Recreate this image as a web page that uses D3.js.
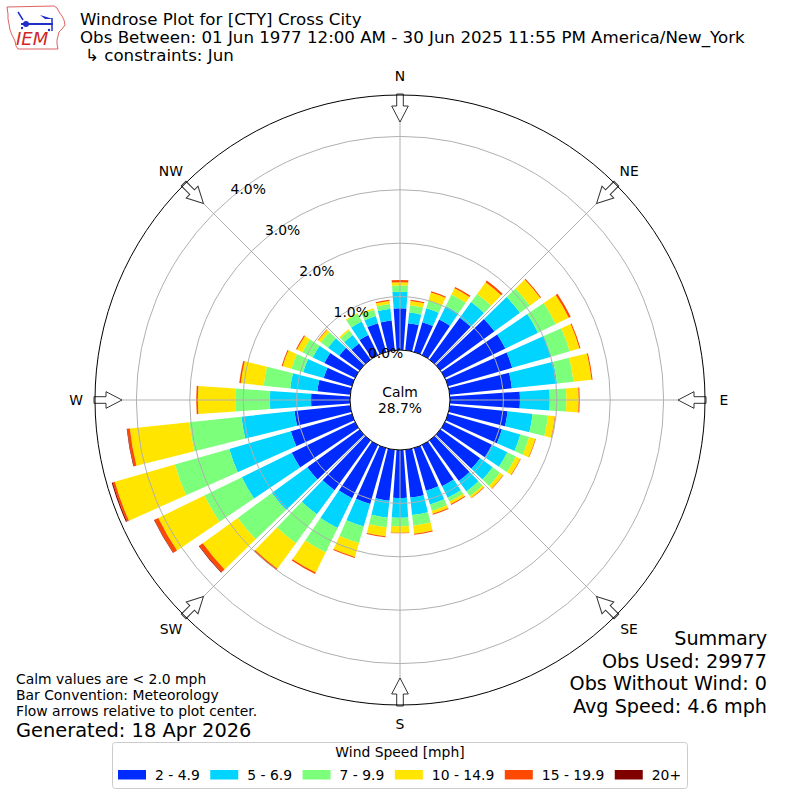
<!DOCTYPE html>
<html lang="en">
<head>
<meta charset="UTF-8"/>
<title>Windrose Plot for [CTY] Cross City</title>
<script src="https://d3js.org/d3.v7.min.js"></script>
<style>
    body { margin: 0; background: #fff; }
    text { font-family: "DejaVu Sans", sans-serif; }
</style>
</head>
<body>
<script>
    // direction bins (degrees, direction wind blows from)
    var directions = [0, 10, 20, 30, 40, 50, 60, 70, 80, 90, 100, 110,
                      120, 130, 140, 150, 160, 170, 180, 190, 200, 210, 220, 230,
                      240, 250, 260, 270, 280, 290, 300, 310, 320, 330, 340, 350];

    var speedBins = ["2 - 4.9", "5 - 6.9", "7 - 9.9", "10 - 14.9", "15 - 19.9", "20+"];
    var binColors = ["#002bff", "#00d4ff", "#7cff7a", "#ffe500", "#ff4900", "#800000"];

    // percent of observations per direction, one array per speed bin
    var pct2to5 = [0.78, 0.51, 0.58, 0.74, 0.97, 1.25, 1.26, 1.25, 1.17, 1.31, 1.09, 1.05,
                   0.98, 0.92, 0.94, 0.86, 0.83, 0.90, 0.90, 0.96, 1.09, 1.11, 1.15, 1.21,
                   1.32, 1.19, 1.05, 0.73, 0.62, 0.55, 0.64, 0.47, 0.37, 0.42, 0.56, 0.56];
    var pct5to7 = [0.31, 0.20, 0.27, 0.28, 0.36, 0.59, 0.68, 0.76, 0.85, 0.56, 0.47, 0.36,
                   0.32, 0.29, 0.24, 0.24, 0.27, 0.33, 0.37, 0.32, 0.44, 0.62, 0.56, 0.82,
                   1.04, 1.20, 1.00, 0.77, 0.51, 0.40, 0.24, 0.26, 0.20, 0.28, 0.14, 0.22];
    var pct7to10 = [0.12, 0.14, 0.15, 0.24, 0.19, 0.23, 0.37, 0.36, 0.31, 0.31, 0.29, 0.17,
                    0.18, 0.17, 0.11, 0.08, 0.12, 0.20, 0.16, 0.18, 0.32, 0.51, 0.67, 0.79,
                    0.78, 1.06, 0.98, 0.65, 0.50, 0.23, 0.22, 0.17, 0.10, 0.16, 0.12, 0.09];
    var pct10to15 = [0.06, 0.08, 0.16, 0.13, 0.27, 0.24, 0.27, 0.19, 0.34, 0.23, 0.13, 0.12,
                     0.09, 0.07, 0.04, 0.05, 0.06, 0.15, 0.12, 0.17, 0.27, 0.42, 0.59, 0.81,
                     0.96, 1.17, 1.12, 0.70, 0.43, 0.17, 0.11, 0.06, 0.03, 0.02, 0.03, 0.06];
    var pct15to20 = [0.04, 0.02, 0.02, 0.03, 0.04, 0.02, 0.04, 0.02, 0.02, 0.02, 0.01, 0.01,
                     0.01, 0.01, 0.01, 0.02, 0.02, 0.02, 0.01, 0.02, 0.02, 0.03, 0.03, 0.08,
                     0.08, 0.04, 0.05, 0.03, 0.03, 0.02, 0.02, 0.01, 0.00, 0.00, 0.00, 0.02];
    var pct20up = [0, 0, 0, 0, 0, 0, 0, 0, 0, 0, 0, 0,
                   0, 0, 0, 0, 0, 0, 0, 0, 0, 0, 0, 0.01,
                   0.01, 0.02, 0.01, 0, 0, 0, 0, 0, 0, 0, 0, 0];

    var ringValues = [0, 1, 2, 3, 4];
    var cardinals = ["N", "NE", "E", "SE", "S", "SW", "W", "NW"];
    var cardinalAngles = [0, 45, 90, 135, 180, 225, 270, 315];

    var calmPct = "28.7%";
    var titleLines = ["Windrose Plot for [CTY] Cross City",
                      "Obs Between: 01 Jun 1977 12:00 AM - 30 Jun 2025 11:55 PM America/New_York",
                      "\u21b3 constraints: Jun"];
    var noteLines = ["Calm values are < 2.0 mph",
                     "Bar Convention: Meteorology",
                     "Flow arrows relative to plot center."];
    var generated = "Generated: 18 Apr 2026";
    var summaryLines = ["Summary", "Obs Used: 29977", "Obs Without Wind: 0", "Avg Speed: 4.6 mph"];

    var w = 800;
    var h = 800;
    var cx = 400;
    var cy = 400;
    var calmR = 50;
    var outerR = 305;
    var rad = Math.PI / 180;

    var svg = d3.select("body")
                .append("svg")
                .attr("width", w)
                .attr("height", h);

    svg.append("rect").attr("width", w).attr("height", h).attr("fill", "white");

    var rScale = d3.scaleLinear()
                   .domain([0, 4.775])
                   .range([calmR, outerR]);

    var rows = directions.map(function(d, i) {
        return { dir: d, b0: pct2to5[i], b1: pct5to7[i], b2: pct7to10[i],
                 b3: pct10to15[i], b4: pct15to20[i], b5: pct20up[i] };
    });
    var keys = ["b0", "b1", "b2", "b3", "b4", "b5"];
    var stacked = d3.stack().keys(keys)(rows);

    var plot = svg.append("g").attr("transform", "translate(" + cx + "," + cy + ")");

    var arc = d3.arc()
                .innerRadius(function(d) { return rScale(d[0]); })
                .outerRadius(function(d) { return rScale(d[1]); })
                .startAngle(function(d) { return (d.data.dir - 4) * rad; })
                .endAngle(function(d) { return (d.data.dir + 4) * rad; });

    // bars
    plot.selectAll("g.layer")
        .data(stacked)
        .enter()
        .append("g")
        .attr("class", "layer")
        .attr("fill", function(d, i) { return binColors[i]; })
        .selectAll("path")
        .data(function(d) { return d.filter(function(s) { return s[1] - s[0] > 0; }); })
        .enter()
        .append("path")
        .attr("d", arc);

    // grid rings and spokes (on top of bars like the original)
    plot.selectAll("circle.ring")
        .data(ringValues.slice(1))
        .enter()
        .append("circle")
        .attr("class", "ring")
        .attr("r", function(d) { return rScale(d); })
        .attr("fill", "none")
        .attr("stroke", "#b0b0b0")
        .attr("stroke-width", 1);

    plot.selectAll("line.spoke")
        .data(cardinalAngles)
        .enter()
        .append("line")
        .attr("class", "spoke")
        .attr("x1", function(d) { return calmR * Math.sin(d * rad); })
        .attr("y1", function(d) { return -calmR * Math.cos(d * rad); })
        .attr("x2", function(d) { return outerR * Math.sin(d * rad); })
        .attr("y2", function(d) { return -outerR * Math.cos(d * rad); })
        .attr("stroke", "#b0b0b0")
        .attr("stroke-width", 1);

    // flow arrows at the rim, pointing to the center
    var arrowPath = "M-3.3," + (-outerR - 1) + " L3.3," + (-outerR - 1) +
                    " L3.3," + (-outerR + 11) + " L8.3," + (-outerR + 11) +
                    " L0," + (-outerR + 27) + " L-8.3," + (-outerR + 11) +
                    " L-3.3," + (-outerR + 11) + " Z";
    plot.selectAll("path.arrow")
        .data(cardinalAngles)
        .enter()
        .append("path")
        .attr("class", "arrow")
        .attr("d", arrowPath)
        .attr("transform", function(d) { return "rotate(" + d + ")"; })
        .attr("fill", "white")
        .attr("stroke", "#333")
        .attr("stroke-width", 1);

    plot.append("circle")
        .attr("r", outerR)
        .attr("fill", "none")
        .attr("stroke", "black")
        .attr("stroke-width", 1);

    // calm circle
    plot.append("circle")
        .attr("r", calmR)
        .attr("fill", "white")
        .attr("stroke", "black")
        .attr("stroke-width", 1);

    plot.append("text").attr("x", 0).attr("y", -3)
        .attr("text-anchor", "middle").attr("font-size", "13.9px")
        .text("Calm");
    plot.append("text").attr("x", 0).attr("y", 13)
        .attr("text-anchor", "middle").attr("font-size", "13.9px")
        .text(calmPct);

    // ring labels
    var labelAngle = -40 * rad;
    plot.selectAll("text.rlabel")
        .data(ringValues)
        .enter()
        .append("text")
        .attr("class", "rlabel")
        .attr("x", function(d) { return rScale(d) * Math.sin(labelAngle); })
        .attr("y", function(d) { return -rScale(d) * Math.cos(labelAngle) - 3.7; })
        .attr("font-size", "13.9px")
        .text(function(d) { return d3.format(".1f")(d) + "%"; });

    // compass labels
    plot.selectAll("text.card")
        .data(cardinals)
        .enter()
        .append("text")
        .attr("class", "card")
        .attr("x", function(d, i) { return 324 * Math.sin(cardinalAngles[i] * rad); })
        .attr("y", function(d, i) { return -324 * Math.cos(cardinalAngles[i] * rad) + 5; })
        .attr("text-anchor", "middle")
        .attr("font-size", "13.9px")
        .text(function(d) { return d; });

    // title block
    svg.selectAll("text.title")
        .data(titleLines)
        .enter()
        .append("text")
        .attr("class", "title")
        .attr("x", function(d, i) { return i == 2 ? 85 : 80; })
        .attr("y", function(d, i) { return [25, 42.5, 60.5][i]; })
        .attr("font-size", "16.67px")
        .text(function(d) { return d; });

    // IEM logo
    var logo = svg.append("g");
    logo.append("path")
        .attr("d", "M7,7 L54,6 L57,8 L59,12 L62,16 L64,20 L65,25 L62,29 L59,32 L58,36 L57,40 L57,44 L58,49 L18,49 L16,46 L15,41 L12,35 L10,30 L9,24 L8,19 L8,14 Z")
        .attr("fill", "white")
        .attr("stroke", "#d43a3a")
        .attr("stroke-width", 0.8);
    logo.append("line").attr("x1", 21).attr("y1", 24).attr("x2", 53).attr("y2", 24)
        .attr("stroke", "#1f2fc8").attr("stroke-width", 2);
    logo.append("circle").attr("cx", 26).attr("cy", 24).attr("r", 3).attr("fill", "#1f2fc8");
    logo.append("line").attr("x1", 18).attr("y1", 12).attr("x2", 23).attr("y2", 20)
        .attr("stroke", "#1f2fc8").attr("stroke-width", 1.5);
    logo.append("path").attr("d", "M40,15 L53,19 L45,19 Z").attr("fill", "#1f2fc8");
    logo.append("line").attr("x1", 52).attr("y1", 18).attr("x2", 52).attr("y2", 31)
        .attr("stroke", "#1f2fc8").attr("stroke-width", 1.5);
    logo.append("circle").attr("cx", 22).attr("cy", 28).attr("r", 1.2).attr("fill", "#1f2fc8");
    logo.append("circle").attr("cx", 49).attr("cy", 30).attr("r", 1.2).attr("fill", "#1f2fc8");
    logo.append("text").attr("x", 16).attr("y", 45)
        .attr("font-family", "Liberation Serif, serif")
        .attr("font-style", "italic")
        .attr("font-size", "18px")
        .attr("fill", "#d02828")
        .text("IEM");

    // notes bottom left
    svg.selectAll("text.note")
        .data(noteLines)
        .enter()
        .append("text")
        .attr("class", "note")
        .attr("x", 16)
        .attr("y", function(d, i) { return 684 + i * 16; })
        .attr("font-size", "13.9px")
        .text(function(d) { return d; });

    svg.append("text").attr("x", 16).attr("y", 737)
        .attr("font-size", "19.4px")
        .text(generated);

    // summary bottom right
    svg.selectAll("text.summary")
        .data(summaryLines)
        .enter()
        .append("text")
        .attr("class", "summary")
        .attr("x", 767)
        .attr("y", function(d, i) { return 645 + i * 22.5; })
        .attr("text-anchor", "end")
        .attr("font-size", "19.2px")
        .text(function(d) { return d; });

    // legend
    var legend = svg.append("g");
    legend.append("rect")
        .attr("x", 112.5).attr("y", 742.5)
        .attr("width", 575).attr("height", 46)
        .attr("rx", 3)
        .attr("fill", "white")
        .attr("stroke", "#cccccc")
        .attr("stroke-width", 1);
    legend.append("text")
        .attr("x", 400).attr("y", 757)
        .attr("text-anchor", "middle")
        .attr("font-size", "13.9px")
        .text("Wind Speed [mph]");

    var lx = 118;
    speedBins.forEach(function(label, i) {
        legend.append("rect")
            .attr("x", lx).attr("y", 770)
            .attr("width", 28).attr("height", 9.5)
            .attr("fill", binColors[i]);
        var t = legend.append("text")
            .attr("x", lx + 37).attr("y", 779.5)
            .attr("font-size", "13.9px")
            .text(label);
        lx = lx + 37 + t.node().getComputedTextLength() + 10.5;
    });
</script>
</body>
</html>
